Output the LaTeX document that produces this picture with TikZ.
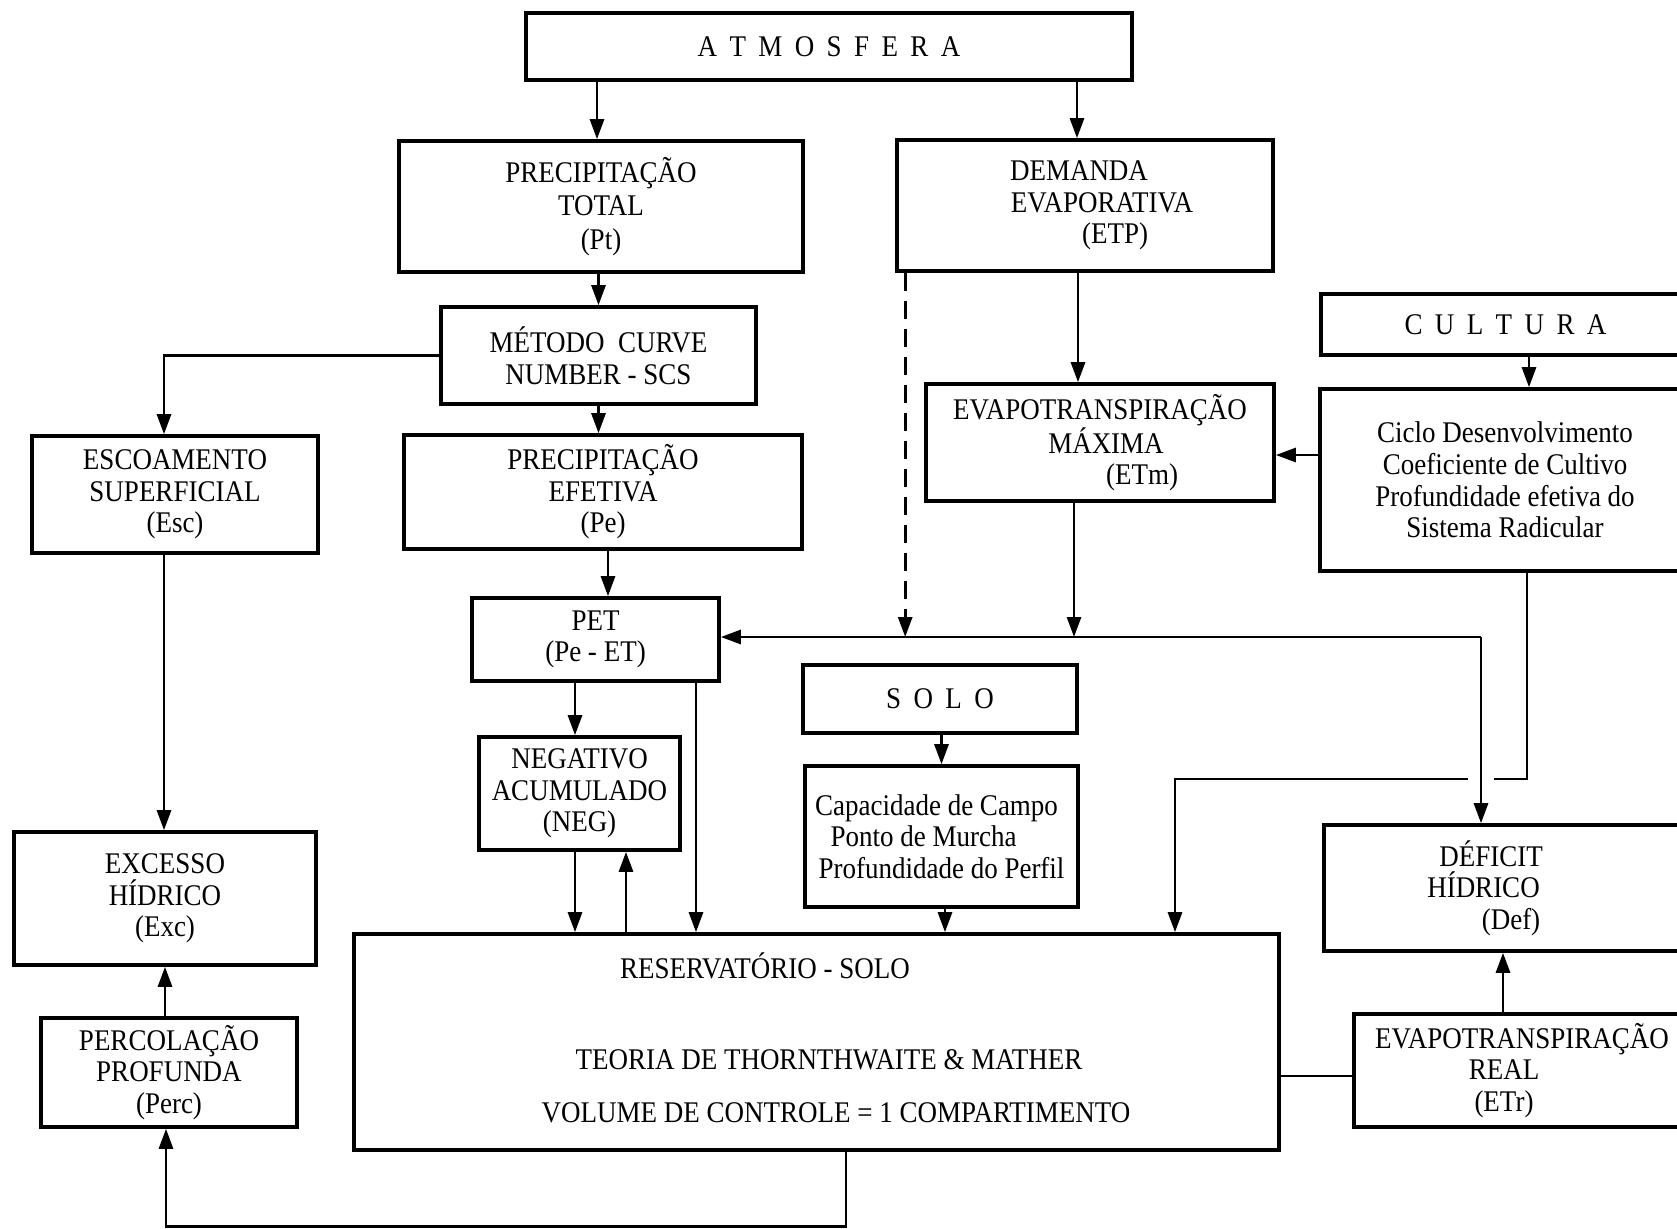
\documentclass[tikz,border=0pt]{standalone}
\usepackage{fontspec}
\setmainfont{Liberation Serif}[FakeStretch=0.9]
\usetikzlibrary{arrows.meta, positioning}
\newcommand{\lgap}{\hspace{6.2pt}}
\tikzset{
  box/.style={rectangle, draw, line width=1.8pt, align=center, inner sep=2pt,
    font=\fontsize{15pt}{15.8pt}\selectfont},
  txt/.style={align=center, inner sep=1pt, font=\fontsize{15pt}{15.8pt}\selectfont},
  arrow/.style={-{Triangle[length=10pt, width=7pt]}, line width=1.4pt},
  dasharrow/.style={arrow, dash pattern=on 9pt off 5pt},
  line/.style={line width=1.4pt}
}

\begin{document}
\begin{tikzpicture}[x=0.5pt, y=-0.5pt]
  \useasboundingbox (0,0) rectangle (1677,1228);

  % Top level
  \node[box, minimum width=303pt, minimum height=33.5pt] (atm) at (829,46.5)
    {A\lgap T\lgap M\lgap O\lgap S\lgap F\lgap E\lgap R\lgap A};
  \node[box, minimum width=202pt, minimum height=65.5pt] (pt) at (601,206.5)
    {PRECIPITAÇÃO\\[1pt]TOTAL\\[1pt](Pt)};
  \node[box, minimum width=188pt, minimum height=65.5pt] (dem) at (1085,205.5)
    {\hspace*{-6pt}DEMANDA\\\hspace*{17pt}EVAPORATIVA\\\hspace*{30pt}(ETP)};

  % Precipitation branch
  \node[box, minimum width=157.5pt, minimum height=48.5pt] (cn) at (598.5,355.5) {MÉTODO\ \ CURVE\\NUMBER - SCS};
  \node[box, minimum width=143pt, minimum height=58.5pt] (esc) at (175,494.5) {ESCOAMENTO\\SUPERFICIAL\\(Esc)};
  \node[box, minimum width=199pt, minimum height=57pt] (pe) at (603,492) {PRECIPITAÇÃO\\EFETIVA\\(Pe)};
  \node[box, minimum width=123.5pt, minimum height=41.5pt] (pet) at (595.5,639.5) {PET\\(Pe - ET)};
  \node[box, minimum width=100.5pt, minimum height=56.5pt] (neg) at (579.5,793.5) {NEGATIVO\\ACUMULADO\\(NEG)};
  \node[box, minimum width=151pt, minimum height=66.5pt] (exc) at (165,898.5) {EXCESSO\\HÍDRICO\\(Exc)};
  \node[box, minimum width=128pt, minimum height=54.5pt] (perc) at (169,1072.5) {PERCOLAÇÃO\\PROFUNDA\\(Perc)};

  % Soil
  \node[box, minimum width=137pt, minimum height=34pt] (solo) at (940,699) {S\lgap O\lgap L\lgap O};
  \node[box, minimum width=136.5pt, minimum height=70.5pt] (cap) at (941.5,836.5)
    {\hspace*{-5pt}Capacidade de Campo\\\hspace*{-18pt}Ponto de Murcha\\Profundidade do Perfil};
  \node[box, minimum width=462.5pt, minimum height=108pt] (res) at (816.5,1042) {};
  \node[txt] (restit) at (765,966) {RESERVATÓRIO - SOLO};
  \node[txt] (resteo) at (829,1060) {TEORIA DE THORNTHWAITE \& MATHER};
  \node[txt] (resvol) at (836,1113) {VOLUME DE CONTROLE = 1 COMPARTIMENTO};

  % Evapotranspiration and crop
  \node[box, minimum width=174pt, minimum height=58.5pt] (etm) at (1100,442.5)
    {EVAPOTRANSPIRAÇÃO\\\hspace*{6pt}MÁXIMA\\\hspace*{42pt}(ETm)};
  \node[box, minimum width=184.5pt, minimum height=30.5pt] (cult) at (1505.5,324.5)
    {C\lgap U\lgap L\lgap T\lgap U\lgap R\lgap A};
  \node[box, minimum width=185pt, minimum height=91pt] (cic) at (1505,480)
    {Ciclo Desenvolvimento\\Coeficiente de Cultivo\\Profundidade efetiva do\\Sistema Radicular};
  \node[box, minimum width=183pt, minimum height=63pt] (def) at (1507,888)
    {\hspace*{-16pt}DÉFICIT\\\hspace*{-23.5pt}HÍDRICO\\\hspace*{4pt}(Def)};
  \node[box, minimum width=168pt, minimum height=56.5pt] (etr) at (1522,1070.5)
    {EVAPOTRANSPIRAÇÃO\\\hspace*{-18pt}REAL\\\hspace*{-18pt}(ETr)};

  \coordinate (bus) at (1481,637);
  \coordinate (ret) at (1175,779);

  % Connectors
  \draw[arrow] ([xshift=-2pt]atm.south -| pt.north) -- ([xshift=-2pt]pt.north);
  \draw[arrow] ([xshift=-4pt]atm.south -| dem.north) -- ([xshift=-4pt]dem.north);
  \draw[arrow] (pt.south -| cn.north) -- (cn.north);
  \draw[arrow] (cn.south) -- (cn.south |- pe.north);
  \draw[arrow] (cn.west) -| ([xshift=-5.5pt]esc.north);
  \draw[arrow] ([xshift=-5.5pt]esc.south) -- ([xshift=-5.5pt]esc.south |- exc.north);
  \draw[arrow] (perc.north -| exc.south) -- (exc.south);
  \draw[arrow] ([xshift=14.75pt]res.south) -- ++(0,-37.5pt) -| ([xshift=-1.5pt]perc.south);
  \draw[arrow] ([xshift=2.5pt]pe.south) -- ([xshift=2.5pt]pe.south |- pet.north);
  \draw[arrow] ([xshift=-10.25pt]pet.south) -- ([xshift=-10.25pt]pet.south |- neg.north);
  \draw[arrow] ([xshift=-2.25pt]neg.south) -- ([xshift=-2.25pt]neg.south |- res.north);
  \draw[arrow] ([xshift=23.25pt]neg.south |- res.north) -- ([xshift=23.25pt]neg.south);
  \draw[arrow] ([xshift=50.25pt]pet.south) -- ([xshift=50.25pt]pet.south |- res.north);
  \draw[arrow] (solo.south -| cap.north) -- (cap.north);
  \draw[arrow] ([xshift=1.75pt]cap.south) -- ([xshift=1.75pt]cap.south |- res.north);
  \draw[dasharrow] ([xshift=5pt]dem.south west) -- ([xshift=5pt]dem.south west |- bus);
  \draw[arrow] ([xshift=-3.5pt]dem.south) -- ([xshift=-3.5pt]dem.south |- etm.north);
  \draw[arrow] ([xshift=-13pt]etm.south) -- ([xshift=-13pt]etm.south |- bus);
  \draw[arrow] (bus) -- (bus -| pet.east);
  \draw[arrow] ([xshift=11.75pt]cult.south) -- ([xshift=11.75pt]cult.south |- cic.north);
  \draw[arrow] ([yshift=12.5pt]cic.west) -- ([yshift=12.5pt]cic.west -| etm.east);
  \draw[arrow] ([xshift=11pt]cic.south) |- (ret) -- (ret |- res.north);
  \draw[arrow, preaction={draw=white, -, line width=13pt, shorten <=40pt, shorten >=20pt}]
    (bus) -- (bus |- def.north);
  \draw[arrow] ([xshift=-9.5pt]etr.north) -- ([xshift=-9.5pt]etr.north |- def.south);
  \draw[line] ([yshift=-2.75pt]etr.west) -- ([yshift=-2.75pt]etr.west -| res.east);
\end{tikzpicture}
\end{document}
